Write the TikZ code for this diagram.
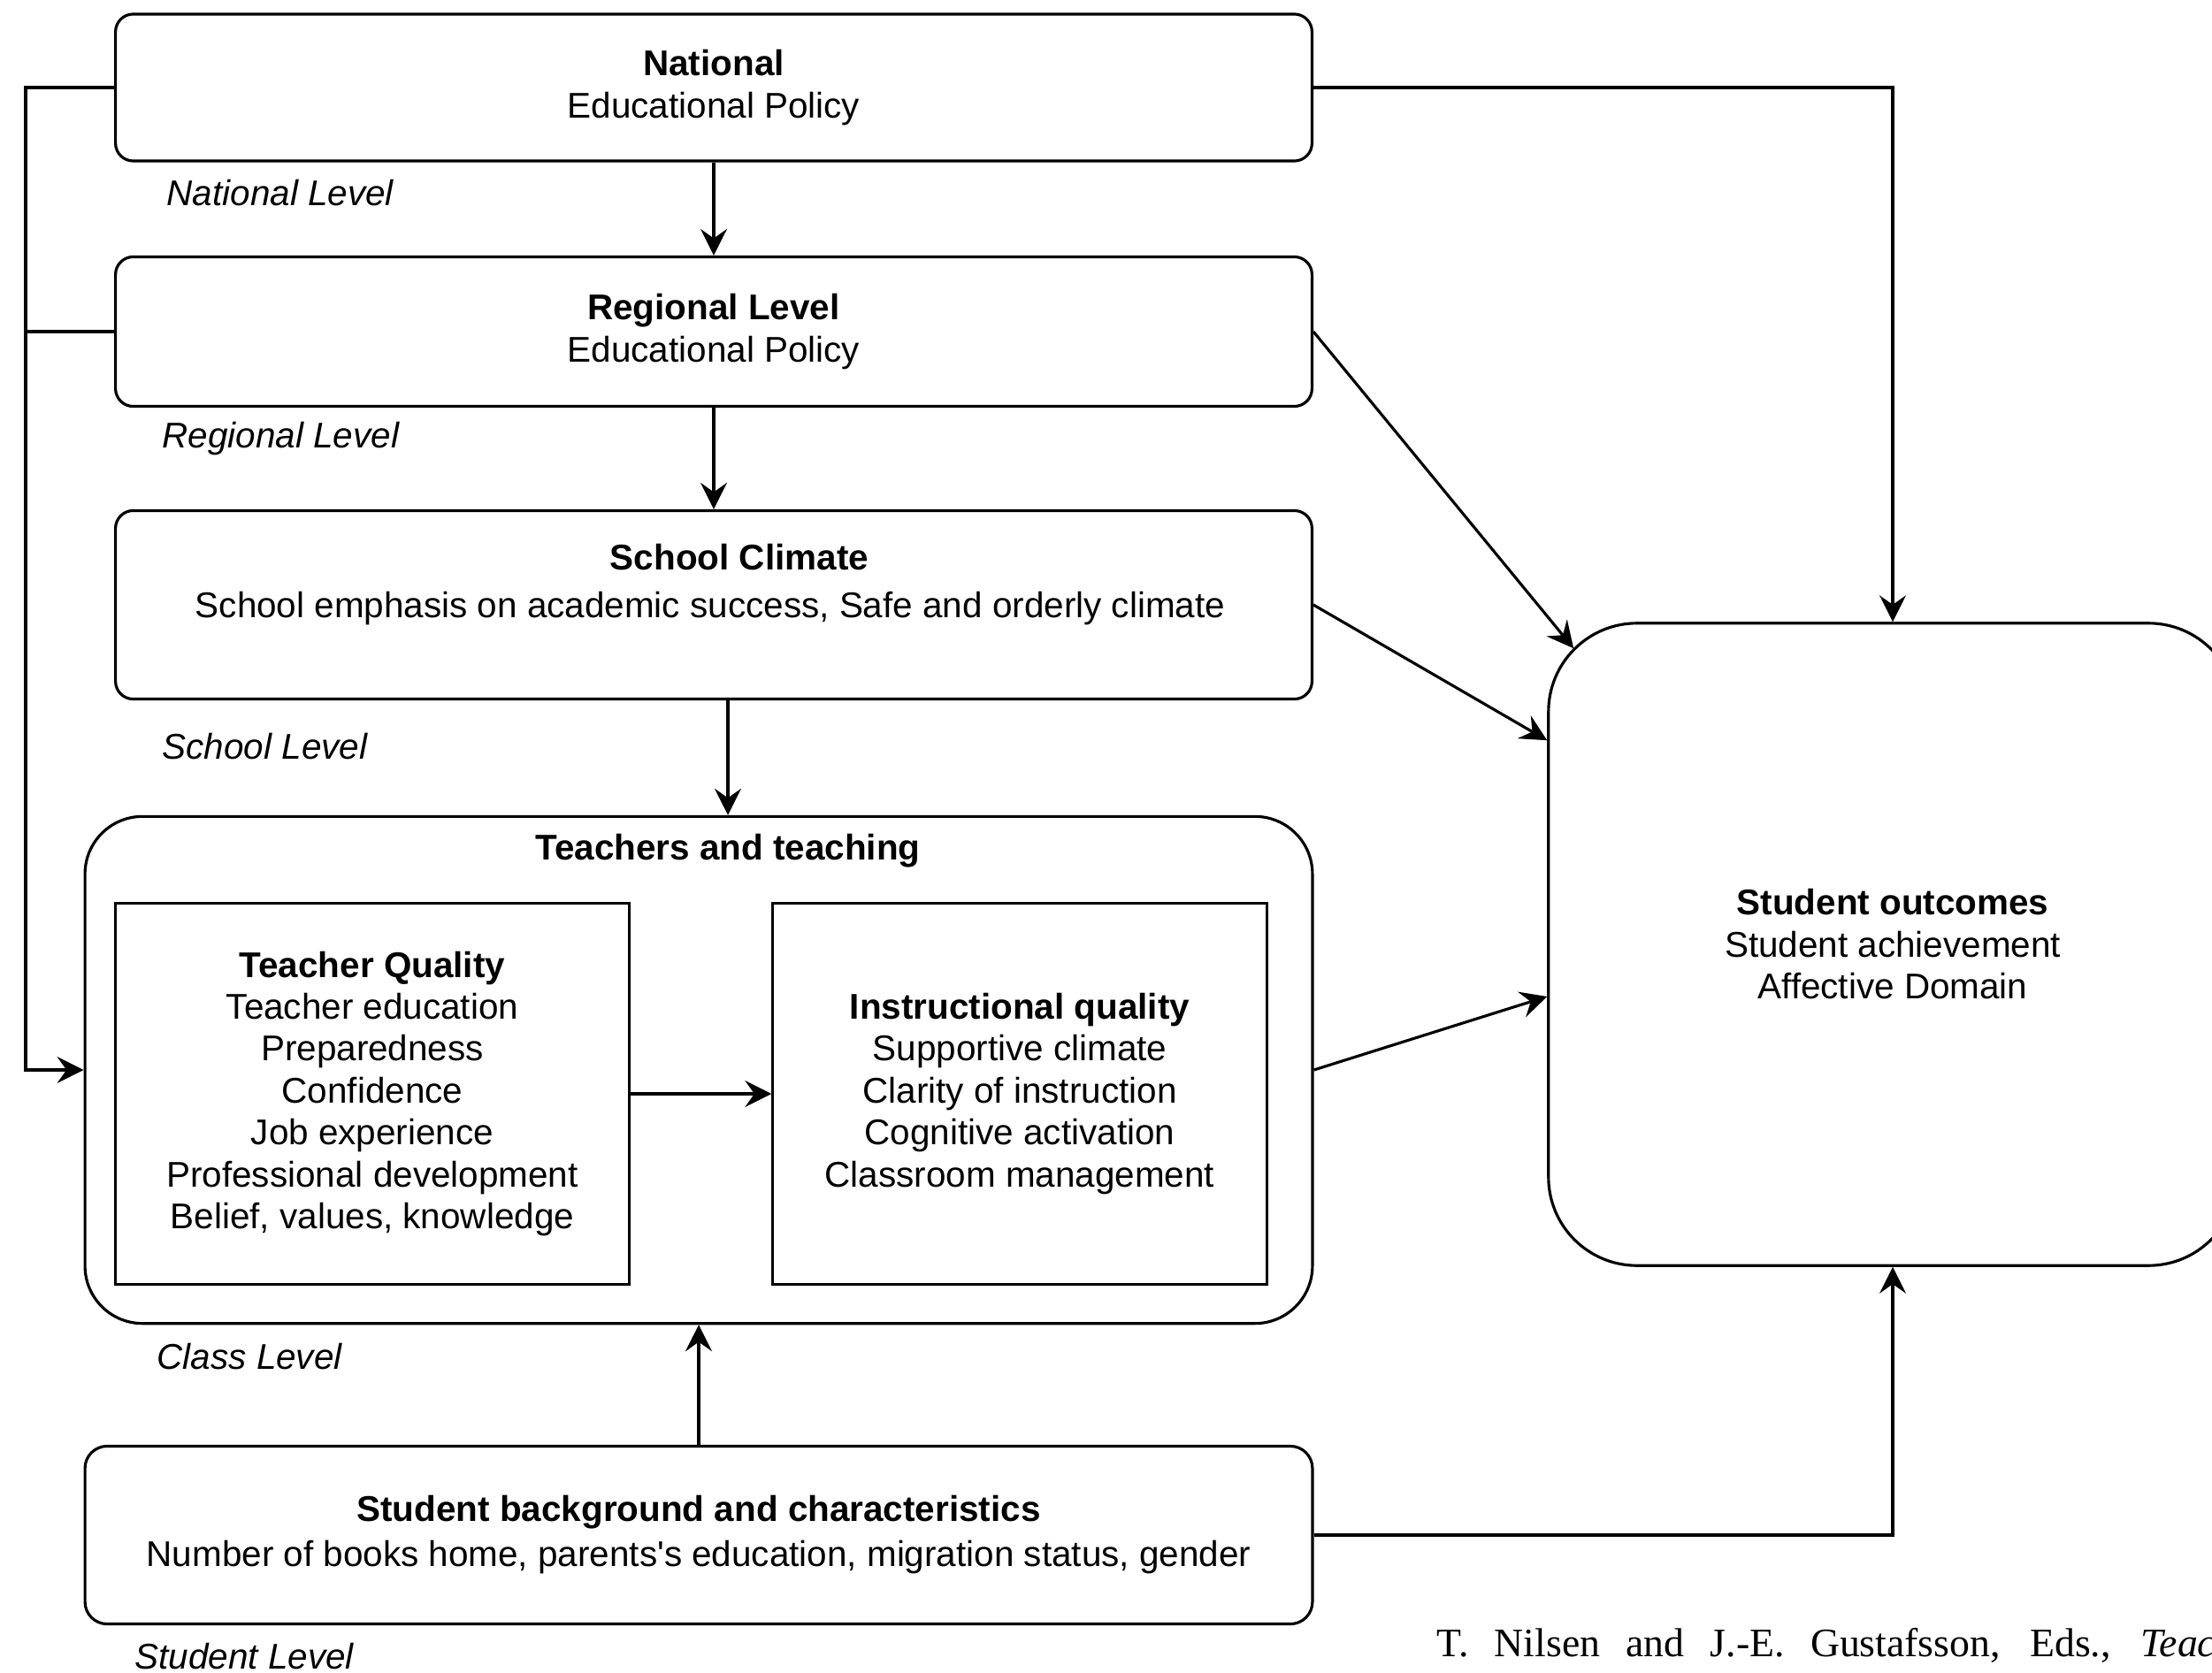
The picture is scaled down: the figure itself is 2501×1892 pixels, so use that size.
\documentclass[tikz,border=0pt]{standalone}
\usepackage{fontspec}
\setmainfont{Liberation Sans}
\newfontfamily\citefont{Liberation Serif}
\usetikzlibrary{arrows.meta,calc}

\begin{document}
\begin{tikzpicture}[x=0.01cm,y=-0.01cm,
  font=\fontsize{11.5}{13.5}\selectfont,
  box/.style={draw,line width=0.9pt,rounded corners=0.2cm,inner sep=0pt},
  sqbox/.style={draw,line width=0.9pt,inner sep=0pt},
  txt/.style={align=center,inner sep=0pt},
  lvl/.style={anchor=west,inner sep=0pt,font=\fontsize{11.5}{13.5}\selectfont\itshape},
  arr/.style={-{Stealth[length=8.5pt,width=8.5pt,inset=3pt]},line width=0.9pt}]

\useasboundingbox (0,0) rectangle (2501,1892);
\clip (0,0) rectangle (2501,1892);

\node[box,minimum width=13.52cm,minimum height=1.66cm,align=center] (nat) at (807,99)
  {\textbf{National}\\Educational Policy};
\node[box,minimum width=13.52cm,minimum height=1.69cm,align=center] (reg) at (807,375)
  {\textbf{Regional Level}\\Educational Policy};
\node[box,minimum width=13.52cm,minimum height=2.13cm] (sch) at (807,684) {};
\node[txt] (schtitle) at (836,630) {\textbf{School Climate}};
\node[txt] (schtext) at (803,688) {School emphasis on academic success, Safe and orderly climate};

\node[box,rounded corners=0.65cm,minimum width=13.87cm,minimum height=5.73cm] (teach) at (790,1210) {};
\node[txt] (teachtitle) at (823,962) {\textbf{Teachers and teaching}};
\node[sqbox,minimum width=5.8cm,minimum height=4.3cm,align=center] (tq) at (421,1237)
  {\textbf{Teacher Quality}\\Teacher education\\Preparedness\\Confidence\\Job experience\\Professional development\\Belief, values, knowledge};
\node[sqbox,minimum width=5.58cm,minimum height=4.3cm,align=center] (iq) at (1153,1237)
  {\textbf{Instructional quality}\\Supportive climate\\Clarity of instruction\\Cognitive activation\\Classroom management};

\node[box,rounded corners=0.25cm,minimum width=13.87cm,minimum height=2.01cm,align=center] (bg) at (790,1736)
  {\textbf{Student background and characteristics}\\[1pt]Number of books home, parents\textquotesingle s education, migration status, gender};
\node[box,rounded corners=1cm,minimum width=7.78cm,minimum height=7.26cm,align=center] (out) at (2140,1068)
  {\textbf{Student outcomes}\\Student achievement\\Affective Domain};

\node[lvl] (natlvl) at (188,218) {National Level};
\node[lvl] (reglvl) at (183,496) {Regional Level};
\node[lvl] (schlvl) at (183,844) {School Level};
\node[lvl] (clslvl) at (177,1534) {Class Level};
\node[lvl] (stulvl) at (152,1873) {Student Level};

\node[anchor=west,inner sep=0pt,font=\citefont\fontsize{13}{15}\selectfont] (cite) at (1624,1861)
  {\makebox[8.8cm][s]{T. Nilsen and J.-E. Gustafsson, Eds., \textit{Teac}}};

\draw[arr] (nat.south) -- (reg.north);
\draw[arr] (reg.south) -- (sch.north);
\draw[arr] (sch.south -| teachtitle) -- (teach.north -| teachtitle);
\draw[arr] (bg.north) -- (teach.south);
\draw[arr] (tq.east) -- (iq.west);

\coordinate (lft) at (29,0);
\draw[arr] (nat.west) -| (lft |- teach.west) -- (teach.west);
\draw[line width=0.9pt] (reg.west) -- (reg.west -| lft);

\draw[arr] (nat.east) -| (out.north);
\draw[arr] (bg.east) -| (out.south);

\coordinate (outcorner) at ($(out.north west)+(30,30)$);
\coordinate (outleft1) at ($(out.north west)+(0,134)$);
\coordinate (outleft2) at ($(out.west)+(0,59)$);
\draw[arr] (reg.east) -- (outcorner);
\draw[arr] (sch.east) -- (outleft1);
\draw[arr] (teach.east) -- (outleft2);
\end{tikzpicture}
\end{document}
